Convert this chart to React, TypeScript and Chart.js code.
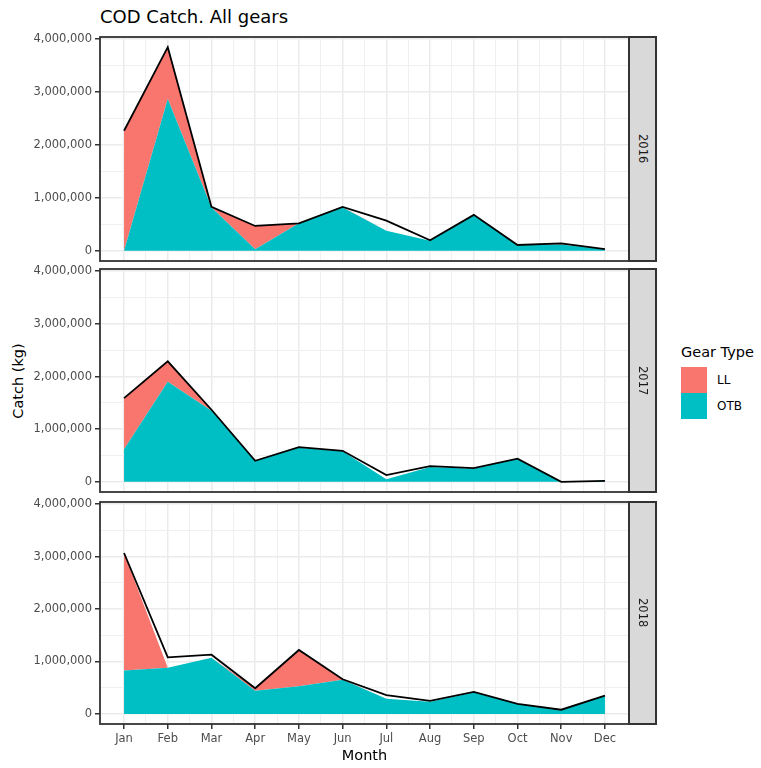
import React, { useEffect, useRef } from 'react';
import { Chart, registerables } from 'chart.js';

Chart.register(...registerables);

// ---------- data ----------
const months = ['Jan', 'Feb', 'Mar', 'Apr', 'May', 'Jun', 'Jul', 'Aug', 'Sep', 'Oct', 'Nov', 'Dec'];
const years = ['2016', '2017', '2018'];
const gearTypes = ['LL', 'OTB'];

// OTB catch (kg) per month
const otb2016 = [0, 2870000, 820000, 30000, 520000, 820000, 380000, 190000, 680000, 110000, 120000, 30000];
const otb2017 = [620000, 1900000, 1350000, 400000, 650000, 580000, 50000, 280000, 250000, 440000, 0, 20000];
const otb2018 = [830000, 880000, 1070000, 440000, 530000, 650000, 290000, 230000, 410000, 190000, 80000, 350000];

// LL catch (kg) per month, stacked above OTB
const ll2016 = [2270000, 980000, 10000, 440000, 0, 10000, 0, 0, 0, 0, 20000, 0];
const ll2017 = [970000, 390000, 20000, 0, 0, 0, 0, 0, 0, 0, 0, 0];
const ll2018 = [2240000, 0, 0, 50000, 690000, 10000, 0, 0, 0, 0, 0, 0];

// Total catch line (kg)
const total2016 = [2270000, 3850000, 830000, 470000, 520000, 830000, 570000, 200000, 680000, 110000, 140000, 30000];
const total2017 = [1590000, 2290000, 1370000, 400000, 660000, 590000, 130000, 300000, 260000, 440000, 0, 20000];
const total2018 = [3070000, 1080000, 1130000, 490000, 1220000, 660000, 360000, 250000, 420000, 190000, 80000, 350000];

const otbByYear = [otb2016, otb2017, otb2018];
const llByYear = [ll2016, ll2017, ll2018];
const totalByYear = [total2016, total2017, total2018];

// y ticks (major every 1,000,000; minor grid every 500,000)
const yTickValues = [0, 500000, 1000000, 1500000, 2000000, 2500000, 3000000, 3500000, 4000000];
// x ticks (major at months, minor at half months)
const xTickValues = [1, 1.5, 2, 2.5, 3, 3.5, 4, 4.5, 5, 5.5, 6, 6.5, 7, 7.5, 8, 8.5, 9, 9.5, 10, 10.5, 11, 11.5, 12];

const Y_MIN = -192500;
const Y_MAX = 4042500;
const X_MIN = 0.45;
const X_MAX = 12.55;

// ---------- layout ----------
const PANEL_TOPS = [37, 269, 502];
const PANEL_BOTTOMS = [261, 492, 724];
const PANEL_LEFT = 100;
const PANEL_RIGHT = 629;
const CANVAS_W = 640;
const PAD_TOP = 10;

const COL_LL = '#F8766D';
const COL_OTB = '#00BFC4';
const FONT = 'DejaVu Sans';

const toPoints = (arr: number[]) => arr.map((v, i) => ({ x: i + 1, y: v }));

function Panel({ idx }: { idx: number }) {
  const ref = useRef<HTMLCanvasElement | null>(null);
  const isBottom = idx === 2;
  const top = PANEL_TOPS[idx] - PAD_TOP;
  const height = isBottom ? 768 - top : PANEL_BOTTOMS[idx] - PANEL_TOPS[idx] + PAD_TOP + 6;

  useEffect(() => {
    if (!ref.current) return;
    const borderPlugin = {
      id: 'panelBorder',
      afterDraw(chart: any) {
        const { ctx, chartArea: a } = chart;
        ctx.save();
        ctx.strokeStyle = '#333333';
        ctx.lineWidth = 1.8;
        ctx.strokeRect(a.left, a.top, a.right - a.left, a.bottom - a.top);
        ctx.restore();
      },
    };
    const chart = new Chart(ref.current, {
      type: 'line',
      data: {
        datasets: [
          {
            label: 'OTB',
            data: toPoints(otbByYear[idx]),
            stack: 'gear',
            order: 1,
            fill: 'origin',
            backgroundColor: COL_OTB,
            borderColor: COL_OTB,
            borderWidth: 0,
            pointRadius: 0,
            tension: 0,
          },
          {
            label: 'LL',
            data: toPoints(llByYear[idx]),
            stack: 'gear',
            order: 2,
            fill: '-1',
            backgroundColor: COL_LL,
            borderColor: COL_LL,
            borderWidth: 0,
            pointRadius: 0,
            tension: 0,
          },
          {
            label: 'Total',
            data: toPoints(totalByYear[idx]),
            stack: 'total',
            order: 0,
            fill: false,
            borderColor: '#000000',
            borderWidth: 1.8,
            pointRadius: 0,
            tension: 0,
          },
        ],
      },
      options: {
        responsive: false,
        animation: false,
        devicePixelRatio: 1,
        layout: { padding: { top: PAD_TOP, left: 0, right: CANVAS_W - PANEL_RIGHT, bottom: isBottom ? 0 : 6 } },
        plugins: { legend: { display: false }, tooltip: { enabled: false }, title: { display: false } },
        scales: {
          x: {
            type: 'linear',
            min: X_MIN,
            max: X_MAX,
            afterBuildTicks: (s: any) => {
              s.ticks = xTickValues.map((v) => ({ value: v }));
            },
            afterFit: (s: any) => {
              s.height = isBottom ? 768 - PANEL_BOTTOMS[idx] : 0;
              s.paddingLeft = 0;
              s.paddingRight = 0;
            },
            ticks: {
              display: isBottom,
              autoSkip: false,
              maxRotation: 0,
              minRotation: 0,
              padding: 3,
              color: '#4D4D4D',
              font: { family: FONT, size: 11.5 },
              callback: (v: any) => (Number.isInteger(v) ? months[v - 1] : ''),
            },
            grid: {
              color: (c: any) => (Number.isInteger(c.tick?.value) ? '#EBEBEB' : '#F0F0F0'),
              lineWidth: (c: any) => (Number.isInteger(c.tick?.value) ? 1.5 : 1),
              drawTicks: isBottom,
              tickLength: 5,
              tickWidth: 1.5,
              tickColor: (c: any) => (Number.isInteger(c.tick?.value) ? '#333333' : 'rgba(0,0,0,0)'),
            },
            border: { display: false },
            title: {
              display: isBottom,
              text: 'Month',
              color: '#000000',
              font: { family: FONT, size: 14.5 },
              padding: { top: 0, bottom: 3 },
            },
          },
          y: {
            stacked: true,
            min: Y_MIN,
            max: Y_MAX,
            afterBuildTicks: (s: any) => {
              s.ticks = yTickValues.map((v) => ({ value: v }));
            },
            afterFit: (s: any) => {
              s.width = PANEL_LEFT;
              s.paddingTop = 0;
              s.paddingBottom = 0;
            },
            ticks: {
              autoSkip: false,
              padding: 3,
              color: '#4D4D4D',
              font: { family: FONT, size: 11.5 },
              callback: (v: any) => (v % 1000000 === 0 ? Number(v).toLocaleString('en-US') : ''),
            },
            grid: {
              color: (c: any) => (c.tick?.value % 1000000 === 0 ? '#EBEBEB' : '#F0F0F0'),
              lineWidth: (c: any) => (c.tick?.value % 1000000 === 0 ? 1.5 : 1),
              drawTicks: true,
              tickLength: 5,
              tickWidth: 1.5,
              tickColor: (c: any) => (c.tick?.value % 1000000 === 0 ? '#333333' : 'rgba(0,0,0,0)'),
            },
            border: { display: false },
          },
        },
      },
      plugins: [borderPlugin],
    } as any);
    return () => chart.destroy();
  }, [idx]);

  return (
    <canvas
      ref={ref}
      width={CANVAS_W}
      height={height}
      style={{ position: 'absolute', left: 0, top, width: CANVAS_W, height }}
    />
  );
}

export default function App() {
  useEffect(() => {
    document.body.style.margin = '0';
  }, []);

  const textBase: React.CSSProperties = {
    position: 'absolute',
    whiteSpace: 'nowrap',
    fontFamily: FONT,
  };

  return (
    <div
      style={{
        position: 'absolute',
        left: 0,
        top: 0,
        width: 761,
        height: 768,
        background: '#ffffff',
        overflow: 'hidden',
        fontFamily: FONT,
      }}
    >
      <div style={{ ...textBase, left: 100, top: 7, height: 20, lineHeight: '20px', fontSize: 18, color: '#000' }}>
        COD Catch. All gears
      </div>

      <div
        style={{
          ...textBase,
          left: 18 - 60,
          top: 381 - 10,
          width: 120,
          height: 20,
          lineHeight: '20px',
          textAlign: 'center',
          fontSize: 14.5,
          color: '#000',
          transform: 'rotate(-90deg)',
        }}
      >
        Catch (kg)
      </div>

      {years.map((y, i) => (
        <Panel key={y} idx={i} />
      ))}

      {years.map((y, i) => (
        <div
          key={'strip' + y}
          style={{
            position: 'absolute',
            left: 628,
            top: PANEL_TOPS[i] - 1,
            width: 29,
            height: PANEL_BOTTOMS[i] - PANEL_TOPS[i] + 2,
            boxSizing: 'border-box',
            border: '2px solid #333333',
            background: '#D9D9D9',
            display: 'flex',
            alignItems: 'center',
            justifyContent: 'center',
          }}
        >
          <span style={{ writingMode: 'vertical-rl', fontFamily: FONT, fontSize: 11.5, color: '#1A1A1A' }}>{y}</span>
        </div>
      ))}

      <div style={{ ...textBase, left: 681, top: 341.5, height: 20, lineHeight: '20px', fontSize: 14.5, color: '#000' }}>
        Gear Type
      </div>
      {gearTypes.map((g, i) => (
        <React.Fragment key={g}>
          <div
            style={{
              position: 'absolute',
              left: 681,
              top: 367 + i * 26,
              width: 26,
              height: 26,
              background: g === 'LL' ? COL_LL : COL_OTB,
            }}
          />
          <div
            style={{
              ...textBase,
              left: 717,
              top: 370 + i * 26,
              height: 20,
              lineHeight: '20px',
              fontSize: 12,
              color: '#000',
            }}
          >
            {g}
          </div>
        </React.Fragment>
      ))}
    </div>
  );
}
